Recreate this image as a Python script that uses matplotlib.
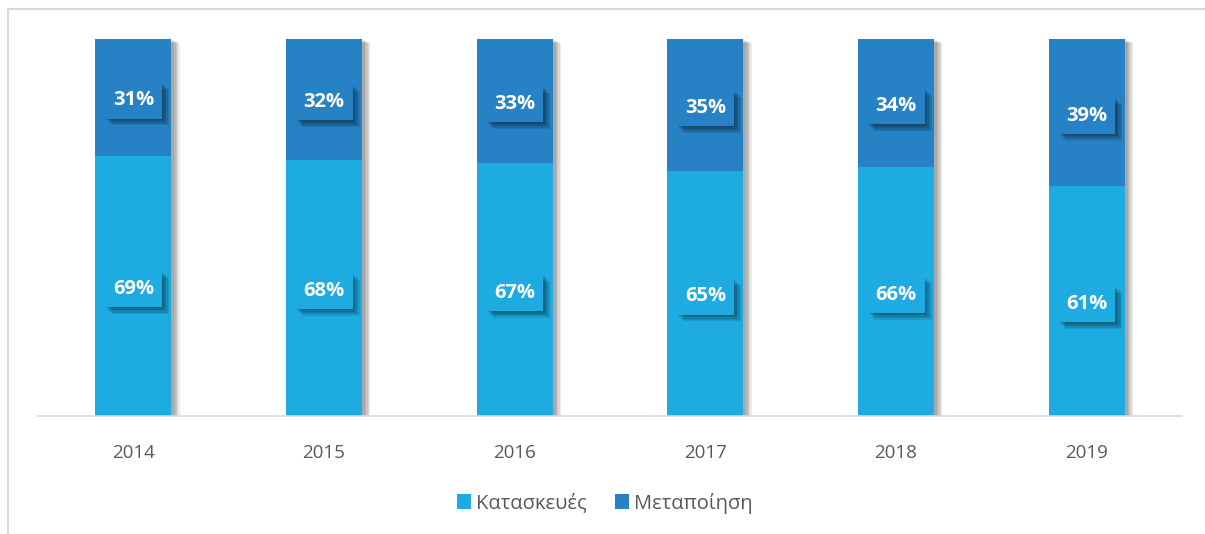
import matplotlib.pyplot as plt
import matplotlib.patheffects as pe
from matplotlib.patches import Rectangle, Patch
import numpy as np

# --- Data ---
years = ["2014", "2015", "2016", "2017", "2018", "2019"]
kataskeves = [69, 68, 67, 65, 66, 61]
metapoiisi = [31, 32, 33, 35, 34, 39]

LIGHT = "#1DABE2"
DARK = "#2681C5"
GRAY_TEXT = "#595959"

plt.rcParams['font.family'] = ['Open Sans', 'DejaVu Sans']

fig = plt.figure(figsize=(12.05, 5.34), dpi=100)
ax = fig.add_axes([38 / 1205, 118 / 534, 1144 / 1205, 377 / 534])

# chart-area frame (only left/top visible in reference)
fig.patches.append(Rectangle((8 / 1205, -0.1), 1.2, 1.1 - 9 / 534,
                             transform=fig.transFigure, fill=False,
                             edgecolor="#D9D9D9", linewidth=1.5))

x = np.arange(len(years))
totals = [a + b for a, b in zip(kataskeves, metapoiisi)]

# soft shadow behind the whole stack
soft = [pe.SimplePatchShadow(offset=(o, -o * 0.5), shadow_rgbFace="#000000", alpha=0.08)
        for o in (2, 3, 4, 5, 6)]
sh = ax.bar(x, totals, width=0.4, color="white", zorder=1)
for r in sh:
    r.set_path_effects(soft)

b1 = ax.bar(x, kataskeves, width=0.4, color=LIGHT, zorder=2)
b2 = ax.bar(x, metapoiisi, width=0.4, bottom=kataskeves, color=DARK, zorder=2)

box_shadow = [pe.SimplePatchShadow(offset=(o, -o), shadow_rgbFace="#000000", alpha=0.1)
              for o in (1, 2, 3, 4, 5)] + [pe.Normal()]
for i in range(len(years)):
    for val, bottom, col in [(kataskeves[i], 0, LIGHT), (metapoiisi[i], kataskeves[i], DARK)]:
        t = ax.text(x[i], bottom + val / 2 - 0.8, f"{val}%", ha="center", va="center",
                    color="white", fontsize=14.5, fontweight="bold", zorder=4,
                    bbox=dict(boxstyle="square,pad=0.4", facecolor=col, edgecolor="none"))
        t.get_bbox_patch().set_path_effects(box_shadow)

ax.set_xlim(-0.5, len(years) - 0.5)
ax.set_ylim(0, 100)
ax.set_xticks(x)
ax.set_xticklabels(years, fontsize=13.5, color=GRAY_TEXT)
ax.tick_params(axis="x", length=0, pad=20)
ax.set_yticks([])
for s in ["top", "right", "left"]:
    ax.spines[s].set_visible(False)
ax.spines["bottom"].set_color("#D9D9D9")
ax.spines["bottom"].set_linewidth(1.2)
ax.spines["bottom"].set_zorder(3)

handles = [Patch(facecolor=LIGHT), Patch(facecolor=DARK)]
fig.legend(handles=handles, labels=["Κατασκευές", "Μεταποίηση"], loc="center",
           bbox_to_anchor=(0.502, 1 - 503 / 534), ncol=2, frameon=False,
           fontsize=14.5, labelcolor=GRAY_TEXT, handlelength=0.7, handleheight=0.7,
           handletextpad=0.25, columnspacing=1.4)

fig.savefig("out.png", dpi=100)
